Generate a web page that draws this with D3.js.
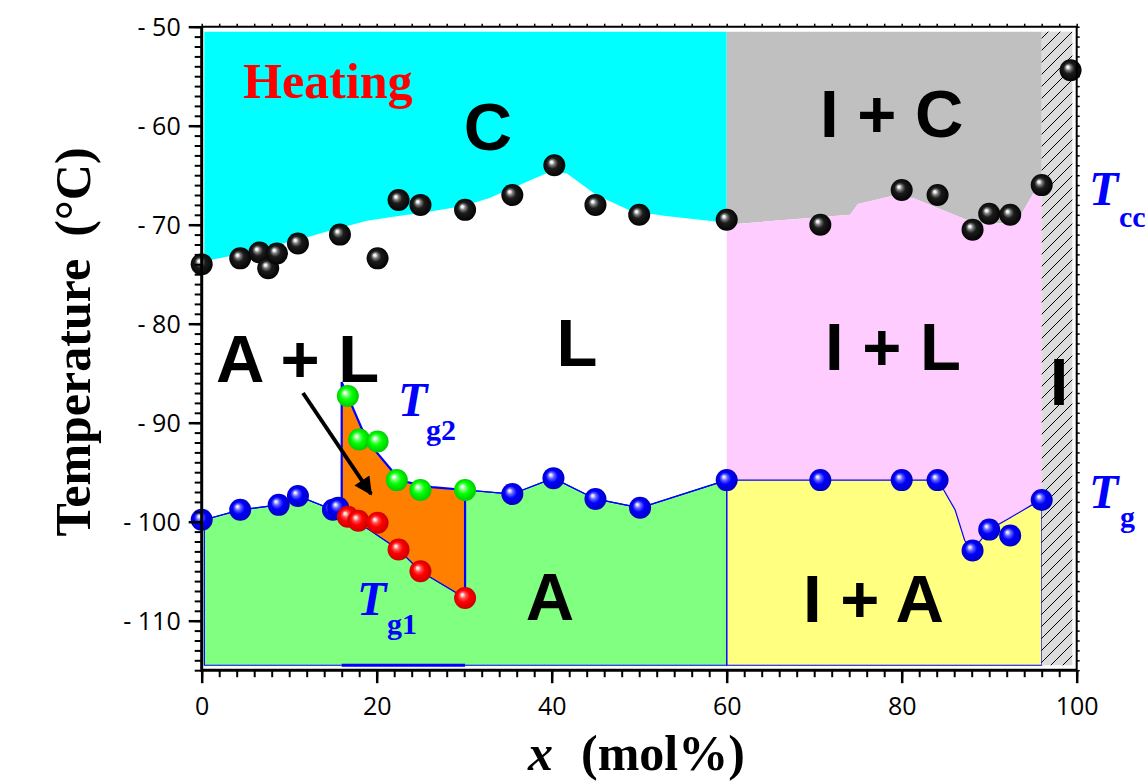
<!DOCTYPE html>
<html>
<head>
<meta charset="utf-8">
<script src="https://cdn.jsdelivr.net/npm/d3@7/dist/d3.min.js"></script>
<style>
  html, body { margin: 0; padding: 0; background: #fff; }
  svg { display: block; }
</style>
</head>
<body>
<svg id="chart" width="1146" height="782"></svg>
<script>
// ---- Measured points (x in mol%, T in °C) ----
const tccX = [0, 4.4, 6.6, 7.6, 8.6, 11, 15.8, 20.1, 22.5, 25, 30.1, 35.5, 40.3, 45, 50, 60, 70.7, 80, 84.1, 88.1, 90, 92.4, 96, 99.3];
const tccY = [-74.0, -73.4, -72.8, -74.4, -72.9, -71.9, -71.0, -73.4, -67.5, -68.0, -68.5, -67.0, -64.0, -68.0, -69.0, -69.5, -70.0, -66.5, -67.0, -70.5, -68.9, -69.0, -66.0, -54.4];

const tgX = [0, 4.4, 8.8, 11, 15.0, 15.6, 35.5, 40.2, 45, 50.1, 60, 70.7, 80, 84.1, 88.1, 90, 92.4, 96];
const tgY = [-99.8, -98.8, -98.3, -97.4, -98.8, -98.6, -97.2, -95.6, -97.7, -98.6, -95.8, -95.8, -95.8, -95.8, -102.9, -100.8, -101.4, -97.8];

const tg1X = [16.7, 17.9, 20.1, 22.5, 25, 30.1];
const tg1Y = [-99.5, -99.9, -100.1, -102.8, -105.0, -107.7];

const tg2X = [16.7, 18.0, 20.1, 22.3, 25, 30.1];
const tg2Y = [-87.3, -91.7, -91.9, -95.8, -96.8, -96.8];

// ---- Phase boundaries ----
const cyanEdge = [[0.3,-73.7],[3.6,-73.1],[7.4,-72.3],[11.2,-71.5],[15,-70.5],[18.9,-69.6],[22.7,-69.1],[25.3,-68.8],[29.9,-68.1],[32.9,-67.3],[39.4,-64.8],[41.7,-64.8],[45.1,-67.0],[49,-68.6],[52.8,-69.1],[60,-69.8]];
const grayEdge = [[60,-70.0],[74.1,-69.0],[75.0,-67.9],[78.9,-67.1],[81.3,-67.3],[87.4,-69.5],[89.7,-69.9],[93.1,-69.8],[95.0,-66.9],[96,-66.6]];
const tgLowLeft = [[0.3,-99.8],[4.4,-98.8],[8.8,-98.3],[11,-97.4],[15.0,-98.8],[15.6,-98.7],[22.5,-102.8],[25,-105.0],[30.1,-107.7]];
const tgMid = [[30.1,-96.8],[35.5,-97.2],[40.2,-95.6],[45,-97.7],[50.1,-98.6],[60,-95.8]];
const tgRight = [[60,-95.8],[70.7,-95.8],[80,-95.8],[84.1,-95.8],[84.8,-96.8],[86.1,-98.8],[87.2,-101.9],[88.1,-102.9],[90,-100.8],[92.4,-99.6],[94.9,-98.3],[96,-97.8]];
const tg2Edge = [[16,-85.9],[18.3,-90.6],[20,-93.0],[21.7,-94.8],[22.3,-95.8],[26.3,-96.5],[30.1,-96.8]];
const tg1Edge = [[30.1,-107.7],[25,-105.0],[22.5,-102.8],[16,-98.9]];

// ---- Region limits ----
const xMin = 0.3, xSplit = 60, xGlass = 96, xMax = 99.5;
const tTop = -50.5, tBottom = -114.5;

// ---- Axis ticks ----
const xTicks = [0, 20, 40, 60, 80, 100];
const yTicks = [-50, -60, -70, -80, -90, -100, -110];

const svg = d3.select("#chart");
const x = d3.scaleLinear().domain([0, 100]).range([201.7, 1076.7]);
const y = d3.scaleLinear().domain([-115, -50]).range([670.2, 26.7]);
const P = d => [x(d[0]), y(d[1])];
const line = d3.line().x(d => x(d[0])).y(d => y(d[1]));
const poly = pts => "M" + pts.map(p => P(p).join(",")).join("L") + "Z";

const defs = svg.append("defs");
function ball(id, stops) {
  const g = defs.append("radialGradient").attr("id", id)
    .attr("cx", "50%").attr("cy", "50%").attr("r", "55%")
    .attr("fx", "36%").attr("fy", "34%");
  stops.forEach(s => g.append("stop").attr("offset", s[0]).attr("stop-color", s[1]));
}
ball("gBlack", [["0%", "#ffffff"], ["10%", "#ececec"], ["24%", "#7a7a7a"], ["45%", "#1c1c1c"], ["100%", "#000000"]]);
ball("gBlue",  [["0%", "#ffffff"], ["10%", "#d8d8ff"], ["26%", "#6060ff"], ["50%", "#0000ff"], ["100%", "#0000b8"]]);
ball("gRed",   [["0%", "#ffffff"], ["10%", "#ffd8d8"], ["26%", "#ff5050"], ["50%", "#ff0000"], ["100%", "#c00000"]]);
ball("gGreen", [["0%", "#ffffff"], ["10%", "#e0ffe0"], ["26%", "#70ff70"], ["50%", "#00ff00"], ["100%", "#00c000"]]);

const hatch = defs.append("pattern").attr("id", "hatch")
  .attr("patternUnits", "userSpaceOnUse").attr("width", 12).attr("height", 12);
hatch.append("rect").attr("width", 12).attr("height", 12).attr("fill", "#dcdcdc");
hatch.append("path").attr("d", "M0,12L12,0M-3,3L3,-3M9,15L15,9")
  .attr("stroke", "#000").attr("stroke-width", 1);

defs.append("marker").attr("id", "arrowHead")
  .attr("viewBox", "0 0 10 10").attr("refX", 9).attr("refY", 5)
  .attr("markerWidth", 5).attr("markerHeight", 4.5).attr("orient", "auto")
  .attr("markerUnits", "strokeWidth")
  .append("path").attr("d", "M0,0L10,5L0,10Z").attr("fill", "#000");

// ---- Phase regions ----
const regions = svg.append("g");
// C (crystal) above the cold-crystallisation line
regions.append("path")
  .attr("d", poly([[xMin, tTop], [xSplit, tTop], ...cyanEdge.slice().reverse()]))
  .attr("fill", "#00ffff");
// I + C
regions.append("path")
  .attr("d", poly([[xSplit, tTop], [xGlass, tTop], ...grayEdge.slice().reverse()]))
  .attr("fill", "#c0c0c0");
// I + L
regions.append("path")
  .attr("d", poly([...grayEdge, ...tgRight.slice().reverse()]))
  .attr("fill", "#ffccff");
// I + A
regions.append("path")
  .attr("d", poly([...tgRight, [xGlass, tBottom], [xSplit, tBottom]]))
  .attr("fill", "#ffff80").attr("stroke", "#0000ff").attr("stroke-width", 1.2);
// A (amorphous)
regions.append("path")
  .attr("d", poly([...tgLowLeft, ...tgMid, [xSplit, tBottom], [xMin, tBottom]]))
  .attr("fill", "#80ff80").attr("stroke", "#0000ff").attr("stroke-width", 1.2);
// A + L
regions.append("path")
  .attr("d", poly([[16, -98.9], ...tg2Edge, ...tg1Edge]))
  .attr("fill", "#ff8000");
regions.append("path")
  .attr("d", line([[16, -98.9], ...tg2Edge, [30.1, -107.7]]))
  .attr("fill", "none").attr("stroke", "#0000ff").attr("stroke-width", 2.2);
regions.append("path")
  .attr("d", line([[16, tBottom], [30.1, tBottom]]))
  .attr("stroke", "#0000ff").attr("stroke-width", 3);
// Tg lines
regions.append("path").attr("d", line(tgLowLeft))
  .attr("fill", "none").attr("stroke", "#0000ff").attr("stroke-width", 1.2);
regions.append("path").attr("d", line(tgMid))
  .attr("fill", "none").attr("stroke", "#0000ff").attr("stroke-width", 1.2);
// Glass-forming region
regions.append("rect")
  .attr("x", x(xGlass)).attr("y", y(tTop))
  .attr("width", x(xMax) - x(xGlass)).attr("height", y(tBottom) - y(tTop))
  .attr("fill", "url(#hatch)");

// ---- Labels ----
const sans = "'Liberation Sans', Arial, sans-serif";
const serif = "'Liberation Serif', 'Times New Roman', serif";
const label = (t, px, py, anchor) => svg.append("text")
  .attr("x", px).attr("y", py).attr("text-anchor", anchor || "middle")
  .attr("font-family", sans).attr("font-weight", "bold").attr("font-size", 67)
  .attr("fill", "#000").text(t);
label("C", 488, 150);
label("L", 577, 366);
label("A + L", 216, 382, "start");
label("A", 550, 620);
label("I + C", 820, 137, "start");
label("I + L", 825, 370, "start");
label("I + A", 803, 622, "start");
label("I", 1059, 405);

svg.append("text").attr("x", 243).attr("y", 98)
  .attr("font-family", serif).attr("font-weight", "bold").attr("font-size", 50)
  .attr("fill", "#ff0000").text("Heating");

function tLabel(px, py, sub, sx, sy) {
  const g = svg.append("g").attr("fill", "#0000ff").attr("font-family", serif).attr("font-weight", "bold");
  g.append("text").attr("x", px).attr("y", py).attr("font-style", "italic").attr("font-size", 48).text("T");
  g.append("text").attr("x", sx).attr("y", sy).attr("font-size", 30).text(sub);
}
tLabel(398, 416, "g2", 426, 440);
tLabel(357, 615, "g1", 387, 634);
tLabel(1089, 205, "cc", 1119, 227);
tLabel(1089, 508, "g", 1120, 527);

svg.append("line")
  .attr("x1", 303).attr("y1", 393).attr("x2", 371).attr("y2", 494)
  .attr("stroke", "#000").attr("stroke-width", 4)
  .attr("marker-end", "url(#arrowHead)");

// ---- Data points ----
const pts = svg.append("g");
function balls(xs, ys, grad) {
  pts.append("g").selectAll("circle").data(xs.map((v, i) => [v, ys[i]])).join("circle")
    .attr("cx", d => x(d[0])).attr("cy", d => y(d[1])).attr("r", 11)
    .attr("fill", `url(#${grad})`);
}
balls(tccX, tccY, "gBlack");
balls(tgX, tgY, "gBlue");
balls(tg1X, tg1Y, "gRed");
balls(tg2X, tg2Y, "gGreen");

// ---- Axes ----
const axes = svg.append("g").attr("font-family", "'Open Sans', sans-serif");
const styleAxis = (g, w) => {
  g.select(".domain").remove();
  g.selectAll("line").attr("stroke", "#000").attr("stroke-width", w);
  g.selectAll("text").attr("font-size", 25).attr("fill", "#000").attr("font-family", "'Open Sans', sans-serif");
};
// left
axes.append("g").attr("transform", `translate(${x(0)},0)`)
  .call(d3.axisLeft(y).tickValues(d3.range(-115, -49, 1)).tickSize(7).tickFormat(""))
  .call(g => styleAxis(g, 2));
axes.append("g").attr("transform", `translate(${x(0)},0)`)
  .call(d3.axisLeft(y).tickValues(yTicks).tickSize(13).tickPadding(8).tickFormat(d => "- " + Math.abs(d)))
  .call(g => styleAxis(g, 2.5))
  .call(g => g.selectAll("text").attr("dy", "0.36em"));
// bottom
axes.append("g").attr("transform", `translate(0,${y(-115)})`)
  .call(d3.axisBottom(x).tickValues(d3.range(0, 101, 2)).tickSize(7).tickFormat(""))
  .call(g => styleAxis(g, 2));
axes.append("g").attr("transform", `translate(0,${y(-115)})`)
  .call(d3.axisBottom(x).tickValues(xTicks).tickSize(13).tickPadding(14))
  .call(g => styleAxis(g, 2.5));
// right and top (short outer ticks)
axes.append("g").attr("transform", `translate(${x(100)},0)`)
  .call(d3.axisRight(y).tickValues(d3.range(-115, -49, 1)).tickSize(3).tickFormat(""))
  .call(g => styleAxis(g, 1.5));
axes.append("g").attr("transform", `translate(0,${y(-50)})`)
  .call(d3.axisTop(x).tickValues(d3.range(0, 101, 2)).tickSize(3).tickFormat(""))
  .call(g => styleAxis(g, 1.5));
// frame
axes.append("path")
  .attr("d", `M${x(0)},${y(-50)}H${x(100)}V${y(-115)}`)
  .attr("fill", "none").attr("stroke", "#000").attr("stroke-width", 2);
axes.append("path")
  .attr("d", `M${x(0)},${y(-50)}V${y(-115)}H${x(100)}`)
  .attr("fill", "none").attr("stroke", "#000").attr("stroke-width", 3);

// ---- Axis titles ----
const yt = svg.append("text")
  .attr("transform", `translate(90,342) rotate(-90)`)
  .attr("text-anchor", "middle")
  .attr("font-family", serif).attr("font-weight", "bold").attr("font-size", 50).attr("fill", "#000");
yt.append("tspan").text("Temperature");
yt.append("tspan").attr("dx", 22).text("(°C)");

const xt = svg.append("text")
  .attr("x", 528).attr("y", 770)
  .attr("font-family", serif).attr("font-weight", "bold").attr("font-size", 50).attr("fill", "#000");
xt.append("tspan").attr("font-style", "italic").text("x");
xt.append("tspan").attr("dx", 28).text("(mol%)");
</script>
</body>
</html>
